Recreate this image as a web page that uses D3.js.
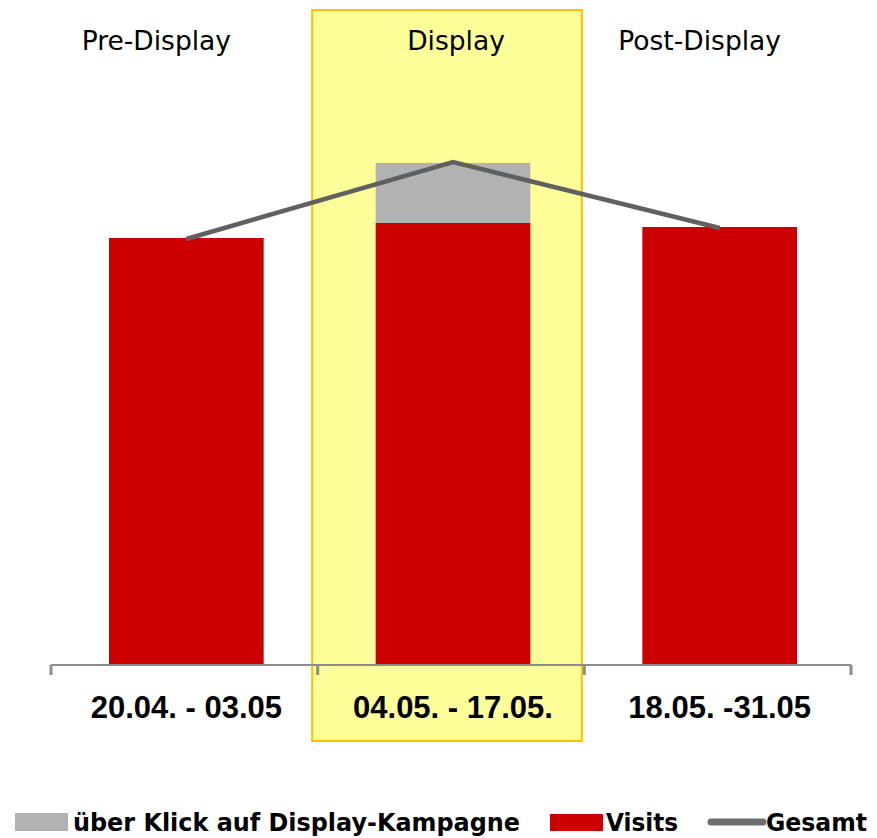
<!DOCTYPE html>
<html>
<head>
<meta charset="utf-8">
<script src="https://cdn.jsdelivr.net/npm/d3@7/dist/d3.min.js"></script>
<style>
  html, body { margin: 0; padding: 0; background: #fff; }
  svg { display: block; }
</style>
</head>
<body>
<svg id="chart" width="877" height="838"></svg>
<script>
// ---- data ----
const categories = ["20.04. - 03.05", "04.05. - 17.05.", "18.05. -31.05"];
const phases = ["Pre-Display", "Display", "Post-Display"];
const visits = [4270, 4420, 4380];
const displayClicks = [0, 600, 0];
const gesamt = [4260, 5030, 4370];
const legendLabels = ["über Klick auf Display-Kampagne", "Visits", "Gesamt"];

// ---- layout ----
const svg = d3.select("#chart");
const baseY = 665;
const axisStart = 51, axisEnd = 851;
const x = d3.scaleBand()
  .domain(categories)
  .range([axisStart + 2, axisEnd + 2])
  .paddingInner(0.42)
  .paddingOuter(0.21);
const y = d3.scaleLinear().domain([0, 6000]).range([baseY, baseY - 600]);

const step = x.step();
const bandStart = i => axisStart + i * step;

// highlighted display period box
svg.append("rect")
  .attr("x", bandStart(1) - 5.5)
  .attr("y", 10)
  .attr("width", step + 3)
  .attr("height", 731)
  .attr("fill", "#FFFF99")
  .attr("stroke", "#FFC000")
  .attr("stroke-width", 2);

// stacked bars
const rows = categories.map((c, i) => ({ c, visits: visits[i], clicks: displayClicks[i] }));
const stack = d3.stack().keys(["visits", "clicks"])(rows);
const colors = { visits: "#CC0000", clicks: "#B2B2B2" };
stack.forEach(layer => {
  svg.append("g").selectAll("rect")
    .data(layer.filter(d => d[1] > d[0]))
    .join("rect")
    .attr("x", d => x(d.data.c))
    .attr("width", x.bandwidth())
    .attr("y", d => y(d[1]))
    .attr("height", d => y(d[0]) - y(d[1]))
    .attr("fill", colors[layer.key]);
});

// axis
const axisG = svg.append("g").attr("transform", `translate(0,${baseY})`);
axisG.append("line")
  .attr("x1", axisStart).attr("x2", axisEnd)
  .attr("stroke", "#8C8C8C").attr("stroke-width", 2);
axisG.selectAll("line.tick")
  .data(d3.range(categories.length + 1))
  .join("line")
  .attr("class", "tick")
  .attr("x1", i => bandStart(i)).attr("x2", i => bandStart(i))
  .attr("y1", 0).attr("y2", 10)
  .attr("stroke", "#8C8C8C").attr("stroke-width", 3);

svg.append("g").selectAll("text")
  .data(categories)
  .join("text")
  .attr("x", d => x(d) + x.bandwidth() / 2)
  .attr("y", 718)
  .attr("text-anchor", "middle")
  .attr("font-family", "'Liberation Sans', Arial, sans-serif")
  .attr("font-weight", "bold")
  .attr("font-size", 31)
  .attr("fill", "#000")
  .text(d => d);

// phase labels
const phaseOffsets = [-30, 3, -20];
svg.append("g").selectAll("text")
  .data(phases)
  .join("text")
  .attr("x", (d, i) => x(categories[i]) + x.bandwidth() / 2 + phaseOffsets[i])
  .attr("y", 50)
  .attr("text-anchor", "middle")
  .attr("font-family", "'DejaVu Sans', sans-serif")
  .attr("font-size", 26.5)
  .attr("fill", "#000")
  .text(d => d);

// Gesamt line
const line = d3.line()
  .x((d, i) => x(categories[i]) + x.bandwidth() / 2)
  .y(d => y(d));
svg.append("path")
  .datum(gesamt)
  .attr("d", line)
  .attr("fill", "none")
  .attr("stroke", "#606060")
  .attr("stroke-width", 4.5);

// legend
const lg = svg.append("g").attr("font-family", "'DejaVu Sans', Verdana, sans-serif")
  .attr("font-weight", "bold").attr("font-size", 24);
lg.append("rect").attr("x", 15).attr("y", 813).attr("width", 53).attr("height", 18).attr("fill", "#B2B2B2");
lg.append("text").attr("x", 73).attr("y", 831).attr("textLength", 447).attr("lengthAdjust", "spacingAndGlyphs").text(legendLabels[0]);
lg.append("rect").attr("x", 550).attr("y", 814).attr("width", 53).attr("height", 17).attr("fill", "#CC0000");
lg.append("text").attr("x", 606).attr("y", 831).attr("textLength", 72).attr("lengthAdjust", "spacingAndGlyphs").text(legendLabels[1]);
lg.append("line").attr("x1", 711).attr("x2", 763).attr("y1", 822).attr("y2", 822)
  .attr("stroke", "#6E6E6E").attr("stroke-width", 7).attr("stroke-linecap", "round");
lg.append("text").attr("x", 766).attr("y", 831).attr("textLength", 101).attr("lengthAdjust", "spacingAndGlyphs").text(legendLabels[2]);
</script>
</body>
</html>
